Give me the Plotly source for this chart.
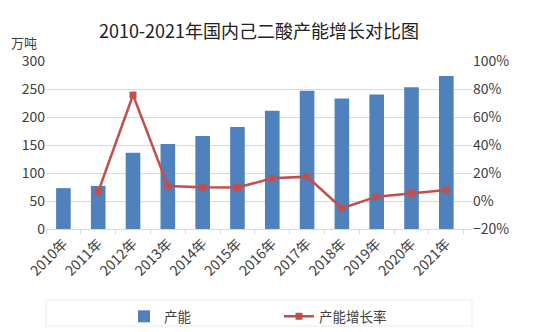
import plotly.graph_objects as go

years = ["2010年", "2011年", "2012年", "2013年", "2014年", "2015年",
         "2016年", "2017年", "2018年", "2019年", "2020年", "2021年"]
capacity = [73, 77, 136, 152, 166, 182, 211, 247, 233, 240, 253, 273]
growth_years = years[1:]
growth = [6.6, 75.7, 10.7, 9.8, 9.6, 16.2, 17.4, -5.2, 3.1, 5.5, 7.9]

FONT = "Noto Sans CJK SC"
TXT = "#404040"

fig = go.Figure()
fig.add_trace(go.Bar(x=years, y=capacity, name="产能", marker_color="#4F81BD",
                     marker_line_width=0, width=0.42, yaxis="y"))
fig.add_trace(go.Scatter(x=growth_years, y=growth, name="产能增长率", mode="lines+markers",
                         line=dict(color="#C0504D", width=2.5),
                         marker=dict(symbol="square", size=7, color="#C0504D"),
                         yaxis="y2"))

fig.update_layout(
    width=554, height=332,
    margin=dict(l=46, r=82, t=61, b=103, autoexpand=False),
    paper_bgcolor="white", plot_bgcolor="white",
    font=dict(family=FONT, size=13.5, color=TXT),
    title=dict(text="2010-2021年国内己二酸产能增长对比图", x=0.5, xref="paper",
               y=0.905, yref="container", xanchor="center", yanchor="middle",
               font=dict(family=FONT, size=18, color="#222222")),
    showlegend=True,
    legend=dict(orientation="h", x=0.5 + 20 / 426, xanchor="center", xref="paper",
                y=(332 - 301) / 332, yanchor="top", yref="container",
                font=dict(family=FONT, size=13.5, color=TXT),
                entrywidth=110, itemwidth=30, bgcolor="rgba(0,0,0,0)"),
    xaxis=dict(type="category", tickson="boundaries", ticks="outside", ticklen=4,
               tickcolor="#D9D9D9", showline=True, linecolor="#D9D9D9", linewidth=1,
               tickangle=-45, tickfont=dict(size=14, color=TXT), showgrid=False,
               automargin=False),
    yaxis=dict(range=[0, 300], dtick=50, showgrid=True, gridcolor="#D9D9D9",
               zeroline=False, showline=False, ticks="", tickfont=dict(size=14, color=TXT),
               automargin=False),
    yaxis2=dict(range=[-20, 100], dtick=20, ticksuffix="%", overlaying="y", side="right",
                showgrid=False, zeroline=False, showline=False, ticks="",
                tickfont=dict(size=14, color=TXT), automargin=False),
    bargap=0.5,
)
fig.add_annotation(text="万吨", xref="paper", yref="paper", x=-37/426, y=1 + 18/168,
                   xanchor="left", yanchor="middle", showarrow=False,
                   font=dict(family=FONT, size=13, color=TXT))
fig.add_shape(type="rect", xref="paper", yref="paper",
              x0=0, x1=1, y0=-(300 - 229) / 168, y1=-(326 - 229) / 168,
              line=dict(color="#EBEBEB", width=1), fillcolor="rgba(0,0,0,0)")

fig.write_html("out.html")
